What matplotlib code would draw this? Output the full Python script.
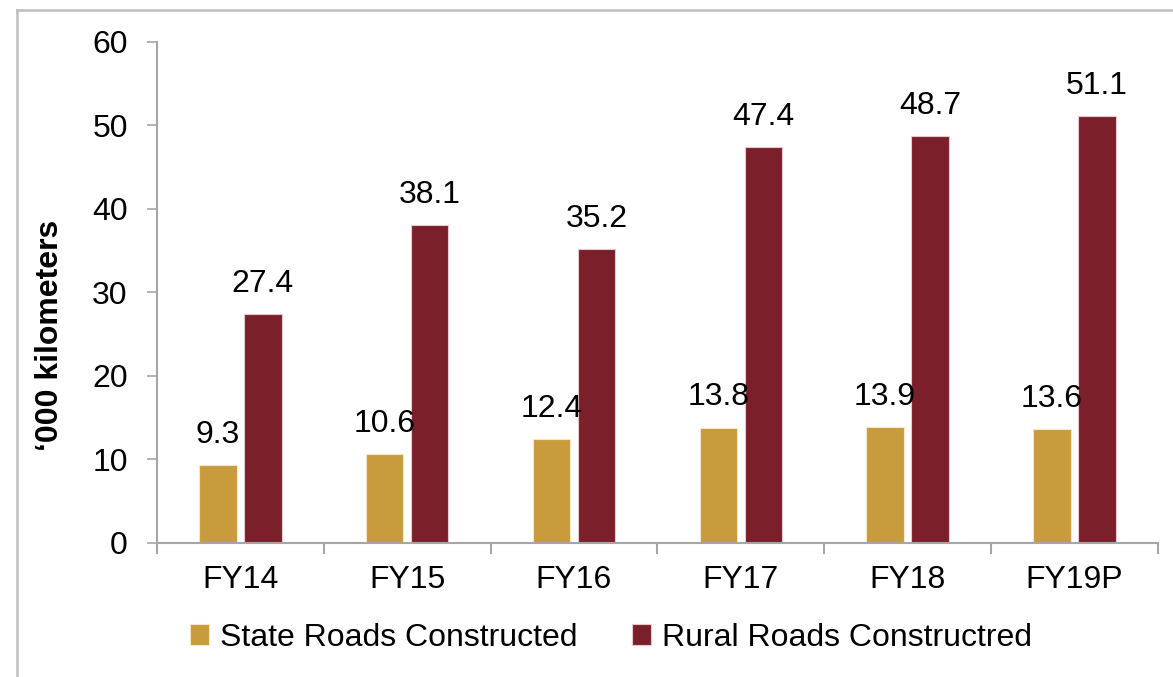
import matplotlib
matplotlib.use("Agg")
import numpy as np
from matplotlib import pyplot as plt
from matplotlib.lines import Line2D

plt.rcParams["font.family"] = ["Liberation Sans", "DejaVu Sans"]

years = ["FY14", "FY15", "FY16", "FY17", "FY18", "FY19P"]
state_roads = [9.3, 10.6, 12.4, 13.8, 13.9, 13.6]
rural_roads = [27.4, 38.1, 35.2, 47.4, 48.7, 51.1]

GOLD = "#C89B3C"
MAROON = "#7B1F2B"
AXIS_GRAY = "#A6A6A6"
FS = 23

# SET PLOT
fig = plt.figure(figsize=(11.73, 6.77), dpi=100)
ax = fig.add_axes([0.1338, 0.198, 0.8533, 0.740])

x = np.arange(len(years))
w = 0.225
off = 0.135
b1 = ax.bar(x - off, state_roads, w, color=GOLD, edgecolor="#F5E6C8",
            linewidth=0.8, label="State Roads Constructed")
b2 = ax.bar(x + off, rural_roads, w, color=MAROON, edgecolor="#E8C8CC",
            linewidth=0.8, label="Rural Roads Constructred")

for bars, vals in ((b1, state_roads), (b2, rural_roads)):
    for r, v in zip(bars, vals):
        ax.annotate(f"{v:.1f}", (r.get_x() + r.get_width() / 2, v),
                    xytext=(0, 11), textcoords="offset points",
                    ha="center", va="bottom", fontsize=FS)

ax.set_xlim(-0.5, len(years) - 0.5)
ax.set_ylim(0, 60)
ax.set_yticks(range(0, 61, 10))
ax.tick_params(axis="y", labelsize=FS, length=7, width=1.2,
               color=AXIS_GRAY, pad=14)
ax.set_xticks(x)
ax.set_xticklabels(years)
ax.set_xticks(np.arange(-0.5, len(years)), minor=True)
ax.tick_params(axis="x", which="major", labelsize=FS, length=0, pad=16)
ax.tick_params(axis="x", which="minor", length=8, width=1.5,
               color=AXIS_GRAY)

for s in ("top", "right"):
    ax.spines[s].set_visible(False)
for s in ("left", "bottom"):
    ax.spines[s].set_color(AXIS_GRAY)
    ax.spines[s].set_linewidth(1.5)

# TITLES
fig.text(0.043, 0.505, "\u2018000 kilometers", rotation=90, fontsize=FS,
         fontweight="bold", ha="center", va="center")

fig.legend(handles=[b1, b2], loc="center", bbox_to_anchor=(0.521, 0.058),
           ncol=2, frameon=False, fontsize=FS, handlelength=0.6,
           handleheight=0.6, handletextpad=0.35, columnspacing=1.7)

# outer frame
fig.add_artist(Line2D([17 / 1173, 17 / 1173], [0, 1 - 10 / 677],
                      color="#BFBFBF", lw=1.8, transform=fig.transFigure))
fig.add_artist(Line2D([17 / 1173, 1], [1 - 10 / 677, 1 - 10 / 677],
                      color="#BFBFBF", lw=1.8, transform=fig.transFigure))

fig.savefig("out.png", dpi=100, facecolor="white")
